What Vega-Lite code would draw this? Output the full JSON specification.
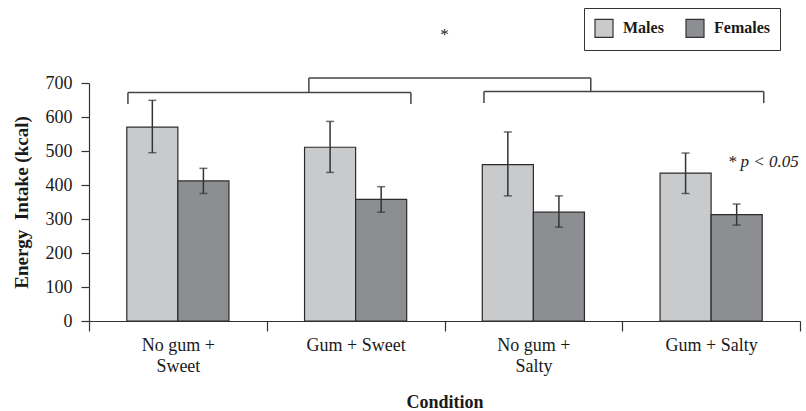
{
  "$schema": "https://vega.github.io/schema/vega-lite/v6.json",
  "width": 711,
  "height": 238,
  "autosize": {"type": "none"},
  "padding": {"left": 89, "top": 83, "right": 6, "bottom": 90},
  "background": "white",
  "config": {
    "view": {"stroke": null},
    "font": "Liberation Serif",
    "axis": {"grid": false, "domainColor": "#333", "tickColor": "#333", "domainWidth": 1.2, "tickWidth": 1.2, "labelColor": "#1a1a1a", "titleColor": "#1a1a1a", "labelFont": "Liberation Serif", "titleFont": "Liberation Serif"},
    "axisY": {"labelOverlap": false}
  },
  "datasets": {
    "bars": [
      {"condition": "No gum + Sweet", "sex": "Males", "mean": 570, "lo": 495, "hi": 649},
      {"condition": "No gum + Sweet", "sex": "Females", "mean": 412, "lo": 375, "hi": 449},
      {"condition": "Gum + Sweet", "sex": "Males", "mean": 511, "lo": 437, "hi": 587},
      {"condition": "Gum + Sweet", "sex": "Females", "mean": 358, "lo": 320, "hi": 395},
      {"condition": "No gum + Salty", "sex": "Males", "mean": 460, "lo": 368, "hi": 556},
      {"condition": "No gum + Salty", "sex": "Females", "mean": 320, "lo": 276, "hi": 368},
      {"condition": "Gum + Salty", "sex": "Males", "mean": 435, "lo": 375, "hi": 494},
      {"condition": "Gum + Salty", "sex": "Females", "mean": 313, "lo": 282, "hi": 344}
    ],
    "brackets": [
      {"pos": 0.219, "pos2": 1.811, "v": 672, "v2": 672},
      {"pos": 0.219, "pos2": 0.219, "v": 672, "v2": 638},
      {"pos": 1.811, "pos2": 1.811, "v": 672, "v2": 638},
      {"pos": 2.222, "pos2": 3.796, "v": 675, "v2": 675},
      {"pos": 2.222, "pos2": 2.222, "v": 675, "v2": 641},
      {"pos": 3.796, "pos2": 3.796, "v": 675, "v2": 641},
      {"pos": 1.237, "pos2": 2.823, "v": 715, "v2": 715},
      {"pos": 1.237, "pos2": 1.237, "v": 715, "v2": 672},
      {"pos": 2.823, "pos2": 2.823, "v": 715, "v2": 675}
    ],
    "notes": [
      {"pos": 2.0, "v": 826, "label": "*"},
      {"pos": 3.594, "v": 453, "label": "* p < 0.05"}
    ]
  },
  "layer": [
    {
      "data": {"name": "bars"},
      "layer": [
        {
          "mark": {"type": "bar", "stroke": "#2b2b2b", "strokeWidth": 1.2},
          "encoding": {
            "x": {
              "field": "condition", "type": "nominal",
              "sort": ["No gum + Sweet", "Gum + Sweet", "No gum + Salty", "Gum + Salty"],
              "scale": {"paddingInner": 0, "paddingOuter": 0},
              "title": "Condition",
              "axis": {
                "labelExpr": "datum.value == 'No gum + Sweet' ? ['No gum +', 'Sweet'] : datum.value == 'No gum + Salty' ? ['No gum +', 'Salty'] : datum.value",
                "tickBand": "extent", "tickSize": 10, "labelAngle": 0,
                "labelFontSize": 18, "labelLineHeight": 21, "labelPadding": 5,
                "titleFontSize": 18, "titleFontWeight": "bold", "titleY": 81, "titleBaseline": "middle"
              }
            },
            "xOffset": {"field": "sex", "type": "nominal", "sort": ["Males", "Females"], "scale": {"paddingInner": 0, "paddingOuter": 0.74}},
            "y": {
              "field": "mean", "type": "quantitative",
              "scale": {"domain": [0, 700], "nice": false},
              "title": "Energy \u00a0Intake (kcal)",
              "axis": {
                "values": [0, 100, 200, 300, 400, 500, 600, 700], "tickCount": 10,
                "tickSize": 8, "labelPadding": 9, "labelFontSize": 18,
                "titleFontSize": 19, "titleFontWeight": "bold", "titleX": -68, "titleBaseline": "middle"
              }
            },
            "fill": {
              "field": "sex", "type": "nominal",
              "scale": {"domain": ["Males", "Females"], "range": ["#c9cacc", "#8d8e92"]},
              "legend": {
                "orient": "none", "legendX": 495, "legendY": -75, "direction": "horizontal", "title": null,
                "strokeColor": "#333", "padding": 10, "symbolType": "square", "symbolSize": 324,
                "symbolStrokeColor": "#333", "symbolStrokeWidth": 1.2, "symbolOpacity": 1,
                "labelFontSize": 16, "labelFontWeight": "bold", "labelFont": "Liberation Serif", "labelColor": "#1a1a1a",
                "labelOffset": 9, "columnPadding": 19
              }
            }
          }
        },
        {
          "mark": {"type": "rule", "color": "#333", "strokeWidth": 1.5},
          "encoding": {
            "x": {"field": "condition", "type": "nominal", "sort": ["No gum + Sweet", "Gum + Sweet", "No gum + Salty", "Gum + Salty"]},
            "xOffset": {"field": "sex", "type": "nominal", "sort": ["Males", "Females"]},
            "y": {"field": "lo", "type": "quantitative"},
            "y2": {"field": "hi"}
          }
        },
        {
          "mark": {"type": "tick", "color": "#333", "thickness": 1.5, "size": 8},
          "encoding": {
            "x": {"field": "condition", "type": "nominal", "sort": ["No gum + Sweet", "Gum + Sweet", "No gum + Salty", "Gum + Salty"]},
            "xOffset": {"field": "sex", "type": "nominal", "sort": ["Males", "Females"]},
            "y": {"field": "lo", "type": "quantitative"}
          }
        },
        {
          "mark": {"type": "tick", "color": "#333", "thickness": 1.5, "size": 8},
          "encoding": {
            "x": {"field": "condition", "type": "nominal", "sort": ["No gum + Sweet", "Gum + Sweet", "No gum + Salty", "Gum + Salty"]},
            "xOffset": {"field": "sex", "type": "nominal", "sort": ["Males", "Females"]},
            "y": {"field": "hi", "type": "quantitative"}
          }
        }
      ]
    },
    {
      "layer": [
        {
          "data": {"name": "brackets"},
          "mark": {"type": "rule", "color": "#444", "strokeWidth": 1.5},
          "encoding": {
            "x": {"field": "pos", "type": "quantitative", "scale": {"domain": [0, 4], "nice": false, "zero": false}, "axis": null},
            "x2": {"field": "pos2"},
            "y": {"field": "v", "type": "quantitative"},
            "y2": {"field": "v2"}
          }
        },
        {
          "data": {"name": "notes"},
          "transform": [{"filter": "datum.label == '*'"}],
          "mark": {"type": "text", "fontSize": 17, "font": "Liberation Serif", "color": "#1a1a1a", "align": "center", "baseline": "alphabetic"},
          "encoding": {
            "x": {"field": "pos", "type": "quantitative"},
            "y": {"field": "v", "type": "quantitative"},
            "text": {"field": "label"}
          }
        },
        {
          "data": {"name": "notes"},
          "transform": [{"filter": "datum.label != '*'"}],
          "mark": {"type": "text", "fontSize": 17, "font": "Liberation Serif", "fontStyle": "italic", "color": "#1a1a1a", "align": "left", "baseline": "alphabetic"},
          "encoding": {
            "x": {"field": "pos", "type": "quantitative"},
            "y": {"field": "v", "type": "quantitative"},
            "text": {"field": "label"}
          }
        }
      ]
    }
  ],
  "resolve": {"scale": {"x": "independent"}}
}
